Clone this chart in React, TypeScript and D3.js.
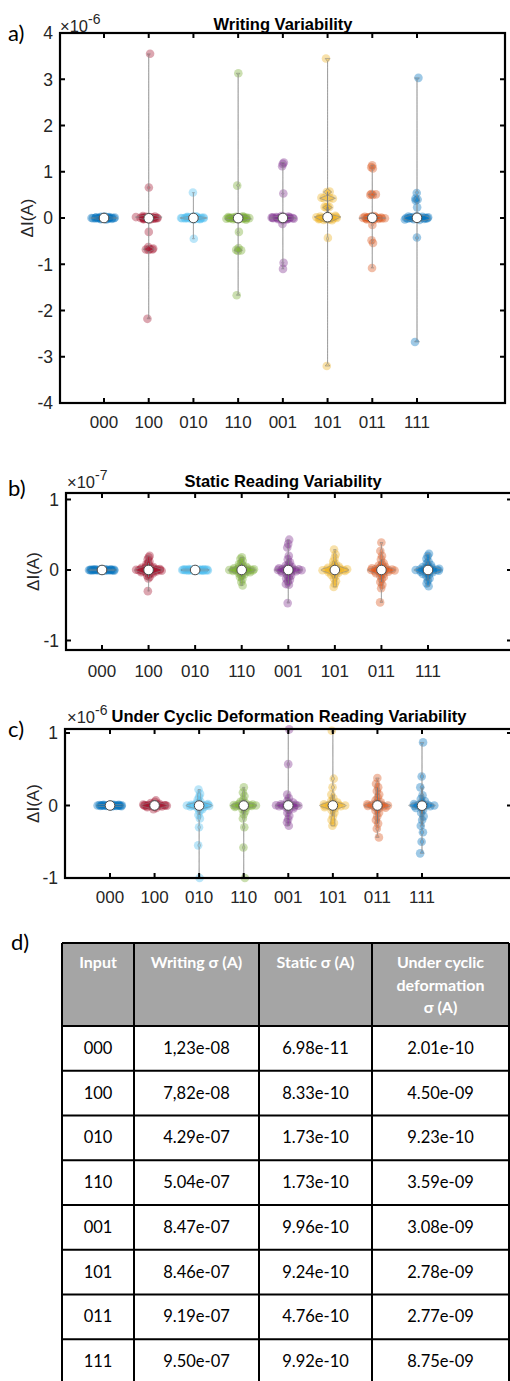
import React from "react";
import * as d3 from "d3";

const CATEGORIES = ["000", "100", "010", "110", "001", "101", "011", "111"];
const COLORS = ["#0072BD", "#A2142F", "#4DBEEE", "#77AC30", "#7E2F8E", "#EDB120", "#D95319", "#0072BD"];

// Panel a: Writing variability (x 1e-6 A)
const wr000 = [0.03, 0.025, 0.02, 0.018, 0.015, 0.012, 0.01, 0.008, 0.006, 0.004, 0.002, 0, 0, -0.002, -0.004, -0.006, -0.008, -0.01, -0.012, -0.015, -0.018, -0.02, -0.025, -0.03, 0.005, -0.005, 0.001, -0.001];
const wr100 = [3.55, 0.66, 0.04, 0.03, 0.025, 0.02, 0.015, 0.01, 0.007, 0.004, 0.002, 0, -0.002, -0.004, -0.007, -0.01, -0.015, -0.02, -0.025, -0.03, 0.012, -0.012, 0.018, -0.018, -0.3, -0.63, -0.66, -0.67, -0.68, -0.68, -0.69, -2.18];
const wr010 = [0.55, 0.035, 0.03, 0.024, 0.02, 0.016, 0.012, 0.009, 0.006, 0.003, 0.001, 0, -0.001, -0.003, -0.006, -0.009, -0.012, -0.016, -0.02, -0.024, -0.03, 0.014, -0.014, 0.004, -0.004, -0.45];
const wr110 = [3.13, 0.7, 0.035, 0.028, 0.022, 0.017, 0.013, 0.01, 0.007, 0.004, 0.002, 0, -0.002, -0.004, -0.007, -0.01, -0.013, -0.017, -0.022, -0.028, -0.035, 0.005, -0.005, 0.011, -0.011, -0.3, -0.65, -0.69, -0.7, -0.71, -1.67];
const wr001 = [1.2, 1.17, 1.12, 0.53, 0.04, 0.032, 0.025, 0.02, 0.015, 0.011, 0.008, 0.005, 0.002, 0, -0.002, -0.005, -0.008, -0.011, -0.015, -0.02, -0.025, -0.032, -0.04, 0.013, -0.013, -0.13, -0.97, -1.1];
const wr101 = [3.45, 0.57, 0.56, 0.44, 0.43, 0.43, 0.42, 0.25, 0.24, 0.24, 0.23, 0.05, 0.04, 0.03, 0.025, 0.02, 0.015, 0.01, 0.005, 0, -0.005, -0.01, -0.015, -0.02, -0.025, -0.03, -0.04, -0.05, 0.012, -0.012, -0.43, -3.2];
const wr011 = [1.14, 1.1, 1.07, 0.52, 0.51, 0.5, 0.5, 0.04, 0.03, 0.024, 0.018, 0.013, 0.009, 0.005, 0.002, 0, -0.002, -0.005, -0.009, -0.013, -0.018, -0.024, -0.03, -0.04, 0.011, -0.011, -0.15, -0.48, -0.54, -1.08];
const wr111 = [3.03, 0.54, 0.42, 0.4, 0.38, 0.23, 0.04, 0.032, 0.026, 0.02, 0.015, 0.011, 0.007, 0.004, 0.001, 0, -0.001, -0.004, -0.007, -0.011, -0.015, -0.02, -0.026, -0.032, -0.04, 0.009, -0.009, -0.42, -2.68];

// Panel b: Static reading variability (x 1e-7 A)
const st000 = [0.01, 0.009, 0.008, 0.007, 0.006, 0.005, 0.004, 0.003, 0.002, 0.001, 0, 0, -0.001, -0.002, -0.003, -0.004, -0.005, -0.006, -0.007, -0.008, -0.009, -0.01, 0.0015, -0.0015, 0.0045, -0.0045];
const st100 = [0.2, 0.18, 0.15, 0.12, 0.1, 0.08, 0.06, 0.05, 0.04, 0.035, 0.03, 0.025, 0.02, 0.015, 0.012, 0.01, 0.008, 0.005, 0.003, 0.001, 0, 0, -0.001, -0.003, -0.005, -0.008, -0.01, -0.012, -0.015, -0.02, -0.025, -0.03, -0.035, -0.04, -0.05, -0.06, -0.08, -0.1, -0.12, -0.3];
const st010 = [0.012, 0.01, 0.009, 0.008, 0.007, 0.006, 0.005, 0.004, 0.003, 0.002, 0.001, 0, 0, -0.001, -0.002, -0.003, -0.004, -0.005, -0.006, -0.007, -0.008, -0.009, -0.01, -0.012, 0.0025, -0.0025];
const st110 = [0.18, 0.16, 0.13, 0.1, 0.08, 0.065, 0.05, 0.04, 0.032, 0.025, 0.02, 0.015, 0.01, 0.007, 0.004, 0.002, 0, 0, -0.002, -0.004, -0.007, -0.01, -0.015, -0.02, -0.025, -0.032, -0.04, -0.05, -0.065, -0.08, -0.1, -0.13, -0.17, -0.22];
const st001 = [0.43, 0.37, 0.32, 0.2, 0.15, 0.11, 0.08, 0.06, 0.045, 0.035, 0.025, 0.018, 0.012, 0.008, 0.004, 0.001, 0, -0.001, -0.004, -0.008, -0.012, -0.018, -0.025, -0.035, -0.045, -0.06, -0.08, -0.1, -0.12, -0.14, -0.16, -0.2, -0.21, -0.47];
const st101 = [0.29, 0.22, 0.17, 0.12, 0.09, 0.07, 0.05, 0.04, 0.03, 0.022, 0.015, 0.01, 0.006, 0.003, 0, 0, -0.003, -0.006, -0.01, -0.015, -0.022, -0.03, -0.04, -0.05, -0.07, -0.09, -0.12, -0.16, -0.2, -0.24];
const st011 = [0.39, 0.27, 0.2, 0.15, 0.1, 0.08, 0.06, 0.045, 0.035, 0.025, 0.018, 0.012, 0.007, 0.003, 0, 0, -0.003, -0.007, -0.012, -0.018, -0.025, -0.035, -0.045, -0.06, -0.08, -0.1, -0.13, -0.17, -0.21, -0.26, -0.46];
const st111 = [0.23, 0.2, 0.16, 0.12, 0.09, 0.07, 0.055, 0.042, 0.032, 0.024, 0.017, 0.011, 0.006, 0.002, 0, 0, -0.002, -0.006, -0.011, -0.017, -0.024, -0.032, -0.042, -0.055, -0.07, -0.09, -0.12, -0.15, -0.19, -0.23];

// Panel c: Under cyclic deformation reading variability (x 1e-6 A)
const cy000 = [0.012, 0.01, 0.008, 0.007, 0.006, 0.005, 0.004, 0.003, 0.002, 0.001, 0, 0, -0.001, -0.002, -0.003, -0.004, -0.005, -0.006, -0.007, -0.008, -0.01, -0.012, 0.0015, -0.0015];
const cy100 = [0.07, 0.05, 0.035, 0.025, 0.018, 0.013, 0.009, 0.006, 0.003, 0.001, 0, 0, -0.001, -0.003, -0.006, -0.009, -0.013, -0.018, -0.025, -0.035, -0.05, 0.004, -0.004, 0.002];
const cy010 = [0.22, 0.16, 0.12, 0.08, 0.05, 0.03, 0.02, 0.012, 0.008, 0.005, 0.002, 0, 0, -0.002, -0.005, -0.008, -0.012, -0.02, -0.03, -0.05, -0.08, -0.13, -0.18, -0.3, -0.55, -1.0];
const cy110 = [0.25, 0.18, 0.13, 0.08, 0.05, 0.03, 0.02, 0.012, 0.008, 0.005, 0.002, 0, 0, -0.002, -0.005, -0.008, -0.012, -0.02, -0.03, -0.05, -0.08, -0.12, -0.18, -0.3, -0.58, -1.0];
const cy001 = [1.05, 0.57, 0.15, 0.1, 0.06, 0.04, 0.025, 0.015, 0.01, 0.006, 0.003, 0, 0, -0.003, -0.006, -0.01, -0.015, -0.025, -0.04, -0.06, -0.1, -0.14, -0.19, -0.23, -0.28];
const cy101 = [1.03, 0.37, 0.25, 0.15, 0.1, 0.06, 0.04, 0.025, 0.015, 0.01, 0.005, 0, 0, -0.005, -0.01, -0.015, -0.025, -0.04, -0.06, -0.1, -0.15, -0.2, -0.24, -0.28];
const cy011 = [0.38, 0.3, 0.25, 0.2, 0.15, 0.11, 0.07, 0.045, 0.03, 0.018, 0.01, 0.005, 0, 0, -0.005, -0.01, -0.018, -0.03, -0.045, -0.07, -0.1, -0.15, -0.2, -0.25, -0.32, -0.44];
const cy111 = [0.87, 0.4, 0.25, 0.14, 0.09, 0.06, 0.035, 0.02, 0.01, 0.005, 0, 0, -0.005, -0.01, -0.02, -0.035, -0.06, -0.1, -0.15, -0.2, -0.28, -0.37, -0.5, -0.66];

const Y_TICKS_A = [-4, -3, -2, -1, 0, 1, 2, 3, 4];
const Y_TICKS_BC = [-1, 0, 1];

// Table (d)
const TABLE_HEADERS = [["Input"], ["Writing σ (A)"], ["Static σ (A)"], ["Under cyclic", "deformation", "σ (A)"]];
const writingSigma = ["1,23e-08", "7,82e-08", "4.29e-07", "5.04e-07", "8.47e-07", "8.46e-07", "9.19e-07", "9.50e-07"];
const staticSigma = ["6.98e-11", "8.33e-10", "1.73e-10", "1.73e-10", "9.96e-10", "9.24e-10", "4.76e-10", "9.92e-10"];
const cyclicSigma = ["2.01e-10", "4.50e-09", "9.23e-10", "3.59e-09", "3.08e-09", "2.78e-09", "2.77e-09", "8.75e-09"];

const AX_FONT = "'Liberation Sans', Arial, Helvetica, sans-serif";
const TXT_FONT = "Lato, 'Open Sans', sans-serif";

type PanelCfg = {
  data: number[][];
  bw: number;
  xRange: [number, number];
  box: { l: number; r: number; t: number; b: number };
  yDomain: [number, number];
  yTicks: number[];
  title: string;
  titleX: number;
  titleY: number;
  exp: string;
  expX: number;
  expY: number;
  letter: string;
  letterY: number;
  ylabelX: number;
  tickLabelY: number;
};

function violinProfile(values: number[], bw: number) {
  const mn = d3.min(values) as number;
  const mx = d3.max(values) as number;
  const n = 100;
  const grid = d3.range(n).map((i) => mn + ((mx - mn) * i) / (n - 1));
  const dens = grid.map((g) => d3.sum(values, (v) => Math.exp(-0.5 * ((g - v) / bw) ** 2)));
  const maxD = d3.max(dens) as number;
  return grid.map((g, i) => ({ y: g, w: dens[i] / maxD }));
}

function interpW(prof: { y: number; w: number }[], v: number) {
  const i = d3.bisector((d: { y: number }) => d.y).left(prof, v);
  if (i <= 0) return prof[0].w;
  if (i >= prof.length) return prof[prof.length - 1].w;
  const a = prof[i - 1], b = prof[i];
  const t = b.y === a.y ? 0 : (v - a.y) / (b.y - a.y);
  return a.w + t * (b.w - a.w);
}

function Panel({ cfg }: { cfg: PanelCfg }) {
  const { box } = cfg;
  const x = d3.scaleLinear().domain([1, 8]).range(cfg.xRange);
  const y = d3.scaleLinear().domain(cfg.yDomain).range([box.b, box.t]);
  const HW = 0.3;
  const tick = 5;
  return (
    <g>
      {cfg.data.map((vals, ci) => {
        const pos = ci + 1;
        const color = COLORS[ci];
        const prof = violinProfile(vals, cfg.bw);
        const area = d3
          .area<{ y: number; w: number }>()
          .y((d) => y(d.y))
          .x0((d) => x(pos - HW * d.w))
          .x1((d) => x(pos + HW * d.w));
        const sorted = [...vals].sort((a, b) => a - b);
        const q1 = d3.quantile(sorted, 0.25) as number;
        const q3 = d3.quantile(sorted, 0.75) as number;
        const iqr = q3 - q1;
        const lo = d3.min(sorted.filter((v) => v >= q1 - 1.5 * iqr)) as number;
        const hi = d3.max(sorted.filter((v) => v <= q3 + 1.5 * iqr)) as number;
        const med = d3.median(sorted) as number;
        return (
          <g key={ci}>
            {vals.map((v, i) => {
              const j = (((i + 1) * 0.618034 + ci * 0.31) % 1) * 2 - 1;
              const s = HW * interpW(prof, v);
              return (
                <circle key={i} cx={x(pos + j * s)} cy={y(v)} r={4.3} fill={color} fillOpacity={0.38} />
              );
            })}
            <path d={area(prof) || ""} fill={color} fillOpacity={0.35} stroke="#8c8c8c" strokeOpacity={0.6} strokeWidth={1} />
            <line x1={x(pos)} x2={x(pos)} y1={y(lo)} y2={y(hi)} stroke="#7a7a7a" strokeWidth={1} />
            <line x1={x(pos)} x2={x(pos)} y1={y(q1)} y2={y(q3)} stroke="#7a7a7a" strokeWidth={2} />
            <circle cx={x(pos)} cy={y(med)} r={4.8} fill="#fff" stroke="#4d4d4d" strokeWidth={1} />
          </g>
        );
      })}
      <rect x={box.l} y={box.t} width={box.r - box.l} height={box.b - box.t} fill="none" stroke="#000" strokeWidth={2.2} />
      {CATEGORIES.map((c, i) => (
        <g key={c}>
          <line x1={x(i + 1)} x2={x(i + 1)} y1={box.b} y2={box.b - tick} stroke="#000" strokeWidth={2} />
          <line x1={x(i + 1)} x2={x(i + 1)} y1={box.t} y2={box.t + tick} stroke="#000" strokeWidth={2} />
          <text x={x(i + 1)} y={cfg.tickLabelY} textAnchor="middle" fontFamily={AX_FONT} fontSize={17} fill="#262626">
            {c}
          </text>
        </g>
      ))}
      {cfg.yTicks.map((t) => (
        <g key={t}>
          <line x1={box.l} x2={box.l + tick} y1={y(t)} y2={y(t)} stroke="#000" strokeWidth={2} />
          <line x1={box.r} x2={box.r - tick} y1={y(t)} y2={y(t)} stroke="#000" strokeWidth={2} />
          <text x={box.l - 7} y={y(t)} dy="0.36em" textAnchor="end" fontFamily={AX_FONT} fontSize={17.5} fill="#262626">
            {t}
          </text>
        </g>
      ))}
      <text
        transform={`translate(${cfg.ylabelX},${(box.t + box.b) / 2}) rotate(-90)`}
        textAnchor="middle"
        dy="0.35em"
        fontFamily={AX_FONT}
        fontSize={17}
        fill="#262626"
      >
        ΔI(A)
      </text>
      <text x={cfg.expX} y={cfg.expY} fontFamily={AX_FONT} fontSize={16.5} fill="#262626">
        ×10
        <tspan fontSize={14} dy={-8}>
          {cfg.exp}
        </tspan>
      </text>
      <text x={cfg.titleX} y={cfg.titleY} textAnchor="middle" fontFamily={AX_FONT} fontWeight="bold" fontSize={16.5} fill="#000">
        {cfg.title}
      </text>
      <text x={8} y={cfg.letterY} fontFamily={TXT_FONT} fontSize={22} fill="#000">
        {cfg.letter}
      </text>
    </g>
  );
}

const panelA: PanelCfg = {
  data: [wr000, wr100, wr010, wr110, wr001, wr101, wr011, wr111],
  bw: 0.012,
  xRange: [104, 417],
  box: { l: 60, r: 505, t: 33, b: 403 },
  yDomain: [-4, 4],
  yTicks: Y_TICKS_A,
  title: "Writing Variability",
  titleX: 283,
  titleY: 30,
  exp: "-6",
  expX: 60,
  expY: 32,
  letter: "a)",
  letterY: 41,
  ylabelX: 27,
  tickLabelY: 428,
};

const panelB: PanelCfg = {
  data: [st000, st100, st010, st110, st001, st101, st011, st111],
  bw: 0.02,
  xRange: [102, 428],
  box: { l: 66, r: 512, t: 493, b: 650 },
  yDomain: [-1.135, 1.092],
  yTicks: Y_TICKS_BC,
  title: "Static Reading Variability",
  titleX: 283,
  titleY: 487,
  exp: "-7",
  expX: 67,
  expY: 488,
  letter: "b)",
  letterY: 496,
  ylabelX: 33,
  tickLabelY: 677,
};

const panelC: PanelCfg = {
  data: [cy000, cy100, cy010, cy110, cy001, cy101, cy011, cy111],
  bw: 0.02,
  xRange: [110, 422],
  box: { l: 65, r: 512, t: 729, b: 878 },
  yDomain: [-1, 1.055],
  yTicks: Y_TICKS_BC,
  title: "Under Cyclic Deformation Reading Variability",
  titleX: 289,
  titleY: 722,
  exp: "-6",
  expX: 67,
  expY: 723,
  letter: "c)",
  letterY: 737,
  ylabelX: 33,
  tickLabelY: 903,
};

function Table() {
  const cols = [62, 134, 259, 372, 509];
  const top = 943;
  const headBottom = 1026;
  const rowH = 44.75;
  const rows = CATEGORIES.map((c, i) => [c, writingSigma[i], staticSigma[i], cyclicSigma[i]]);
  const rowY = d3.range(rows.length + 1).map((i) => headBottom + i * rowH);
  return (
    <g>
      <text x={11} y={950} fontFamily={TXT_FONT} fontSize={22} fill="#000">
        d)
      </text>
      <rect x={cols[0]} y={top} width={cols[4] - cols[0]} height={headBottom - top} fill="#a5a5a5" />
      {TABLE_HEADERS.map((lines, ci) => (
        <text key={ci} textAnchor="middle" fontFamily={TXT_FONT} fontWeight="bold" fontSize={16} fill="#fff">
          {lines.map((ln, li) => (
            <tspan key={li} x={(cols[ci] + cols[ci + 1]) / 2} y={968 + li * 22.5}>
              {ln}
            </tspan>
          ))}
        </text>
      ))}
      {rows.map((r, ri) =>
        r.map((val, ci) => (
          <text
            key={ri + "-" + ci}
            x={(cols[ci] + cols[ci + 1]) / 2}
            y={rowY[ri] + rowH / 2 + 5.5}
            textAnchor="middle"
            fontFamily={TXT_FONT}
            fontSize={16.5}
            fill="#000"
          >
            {val}
          </text>
        ))
      )}
      {[top, ...rowY].map((yy, i) => (
        <line key={"h" + i} x1={cols[0]} x2={cols[4]} y1={yy} y2={yy} stroke="#000" strokeWidth={2} />
      ))}
      {cols.map((xx, i) => (
        <line key={"v" + i} x1={xx} x2={xx} y1={top} y2={rowY[rowY.length - 1]} stroke="#000" strokeWidth={2} />
      ))}
    </g>
  );
}

export default function App() {
  return (
    <svg
      width={510}
      height={1381}
      style={{ position: "absolute", left: 0, top: 0, background: "#fff" }}
      xmlns="http://www.w3.org/2000/svg"
    >
      <rect x={0} y={0} width={510} height={1381} fill="#fff" />
      <Panel cfg={panelA} />
      <Panel cfg={panelB} />
      <Panel cfg={panelC} />
      <Table />
    </svg>
  );
}
